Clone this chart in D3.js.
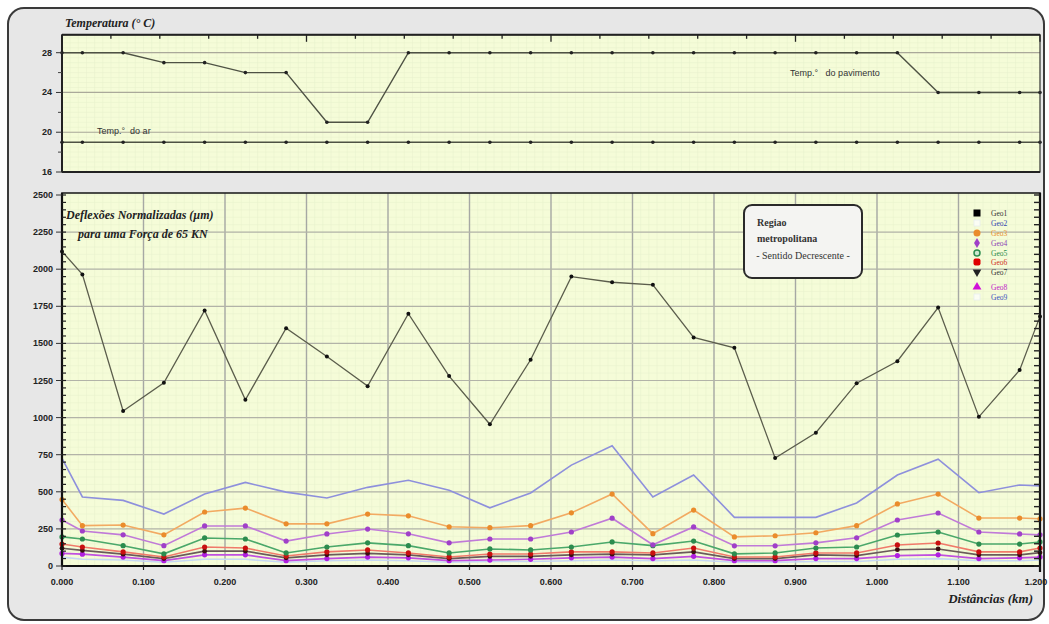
<!DOCTYPE html>
<html>
<head>
<meta charset="utf-8">
<title>Deflexões e temperatura</title>
<script src="https://cdn.jsdelivr.net/npm/d3@7"></script>
<style>
  body { margin: 0; background: #ffffff; }
  svg { display: block; }
  .lbl { font-family: "Liberation Serif", "DejaVu Serif", serif; }
  .tick-lbl { font-family: "Liberation Sans Narrow", "Liberation Sans", sans-serif; font-size: 9px; font-weight: bold; fill: #222; }
</style>
</head>
<body>
<script>
// distances (km)
var dist = [0, 0.025, 0.075, 0.125, 0.175, 0.225, 0.275, 0.325, 0.375, 0.425, 0.475, 0.525, 0.575,
            0.625, 0.675, 0.725, 0.775, 0.825, 0.875, 0.925, 0.975, 1.025, 1.075, 1.125, 1.175, 1.2];

// temperatures (°C)
var tempPav = [28, 28, 28, 27, 27, 26, 26, 21, 21, 28, 28, 28, 28, 28, 28, 28, 28, 28, 28, 28, 28, 28, 24, 24, 24, 24];
var tempAr  = [19, 19, 19, 19, 19, 19, 19, 19, 19, 19, 19, 19, 19, 19, 19, 19, 19, 19, 19, 19, 19, 19, 19, 19, 19, 19];

// normalized deflections (µm)
var geo1 = [2120, 1965, 1045, 1235, 1722, 1120, 1602, 1412, 1212, 1700, 1280, 955, 1390, 1950, 1912, 1895, 1540, 1470, 728, 898, 1232, 1380, 1742, 1005, 1320, 1682];
var geo2 = [725, 465, 442, 350, 485, 563, 498, 458, 530, 578, 510, 392, 492, 680, 810, 465, 613, 328, 328, 328, 425, 613, 720, 494, 546, 540];
var geo3 = [448, 272, 276, 210, 364, 390, 284, 284, 350, 338, 264, 258, 272, 358, 485, 218, 377, 196, 204, 224, 272, 418, 485, 323, 323, 318];
var geo4 = [310, 236, 210, 137, 270, 270, 168, 216, 249, 217, 156, 182, 182, 229, 322, 143, 263, 136, 136, 156, 190, 310, 357, 229, 216, 210];
var geo5 = [196, 182, 137, 82, 189, 182, 88, 128, 156, 137, 88, 115, 108, 128, 162, 137, 168, 82, 88, 121, 128, 209, 229, 148, 148, 162];
var geo6 = [148, 128, 95, 61, 128, 121, 67, 95, 108, 88, 61, 81, 81, 95, 95, 88, 121, 61, 61, 88, 88, 142, 155, 95, 95, 121];
var geo7 = [120, 105, 80, 50, 100, 100, 55, 75, 85, 75, 50, 65, 65, 75, 80, 75, 95, 50, 50, 75, 70, 110, 115, 75, 75, 90];
var geo8 = [85, 80, 60, 36, 75, 75, 36, 50, 60, 55, 36, 40, 45, 55, 60, 50, 65, 36, 36, 50, 50, 70, 75, 50, 55, 60];
var geo9 = [60, 45, 40, 25, 45, 45, 25, 35, 40, 35, 25, 30, 30, 35, 40, 35, 40, 25, 25, 30, 30, 45, 50, 35, 35, 40];

var seriesNames = ["Geo1", "Geo2", "Geo3", "Geo4", "Geo5", "Geo6", "Geo7", "Geo8", "Geo9"];

// tick labels
var xTicks = [0, 0.1, 0.2, 0.3, 0.4, 0.5, 0.6, 0.7, 0.8, 0.9, 1.0, 1.1, 1.2];
var tempTicks = [16, 20, 24, 28];
var deflTicks = [0, 250, 500, 750, 1000, 1250, 1500, 1750, 2000, 2250, 2500];

var W = 1049, H = 624;
var svg = d3.select("body").append("svg").attr("width", W).attr("height", H);

// outer frame
svg.append("rect").attr("x", 8).attr("y", 8).attr("width", 1036).attr("height", 612)
  .attr("rx", 16).attr("fill", "#e7e7e7").attr("stroke", "#3a3a3a").attr("stroke-width", 2);

var x = d3.scaleLinear().domain([0, 1.2]).range([62, 1040]);
var yT = d3.scaleLinear().domain([16, 28]).range([172, 52.7]);
var yB = d3.scaleLinear().domain([0, 2500]).range([566, 195]);

var topY0 = yT(29.8), botY0 = 193;

// styles for each series
var styles = [
  {data: geo1, line: "#5b5d4c", mark: "#111", r: 2, text: "#333", lm: "square"},
  {data: geo2, line: "#8e90dc", mark: null, r: 0, text: "#3245b0", lm: "empty"},
  {data: geo3, line: "#f2aa62", mark: "#ea8c2c", r: 2.6, text: "#e8902c", lm: "circle"},
  {data: geo4, line: "#c07ad8", mark: "#a040c8", r: 2.6, text: "#8a3cb4", lm: "diamond"},
  {data: geo5, line: "#4aa86a", mark: "#2c8c4e", r: 2.6, text: "#2a8a48", lm: "ocircle"},
  {data: geo6, line: "#f07a6a", mark: "#c81010", r: 2.6, text: "#d03020", lm: "rsquare"},
  {data: geo7, line: "#6a5a5a", mark: "#3a1010", r: 2.4, text: "#333", lm: "tdown"},
  {data: geo8, line: "#c050e0", mark: "#b020e0", r: 2.6, text: "#c020c8", lm: "tup"},
  {data: geo9, line: "#c6d8f4", mark: null, r: 0, text: "#3a50c0", lm: "empty"}
];

function panel(y0, y1, yScale, yStepFine) {
  var g = svg.append("g");
  g.append("rect").attr("x", 62).attr("y", y0).attr("width", 978).attr("height", y1 - y0)
    .attr("fill", "#f5fcd8");
  // fine graph paper grid
  var fx = d3.range(0, 1.2001, 0.01);
  g.selectAll(".fx").data(fx).enter().append("line")
    .attr("x1", d => x(d)).attr("x2", d => x(d)).attr("y1", y0).attr("y2", y1)
    .attr("stroke", "#e6f0cc").attr("stroke-width", 0.5);
  var dom = yScale.domain();
  var fy = d3.range(dom[0], yScale.invert(y0), yStepFine);
  g.selectAll(".fy").data(fy).enter().append("line")
    .attr("x1", 62).attr("x2", 1040).attr("y1", d => yScale(d)).attr("y2", d => yScale(d))
    .attr("stroke", "#e6f0cc").attr("stroke-width", 0.5);
  return g;
}

// ---------- top panel: temperature ----------
var gT = panel(topY0, 172, yT, 0.5);
gT.selectAll(".hg").data([20, 24, 28]).enter().append("line")
  .attr("x1", 62).attr("x2", 1040).attr("y1", d => yT(d)).attr("y2", d => yT(d))
  .attr("stroke", "#aaa99a").attr("stroke-width", 1.2);

var lineT = d3.line().x((d, i) => x(dist[i])).y(d => yT(d));
[tempPav, tempAr].forEach(function (s) {
  gT.append("path").attr("d", lineT(s)).attr("fill", "none").attr("stroke", "#4e5244").attr("stroke-width", 1.4);
  gT.selectAll(null).data(s).enter().append("circle")
    .attr("cx", (d, i) => x(dist[i])).attr("cy", d => yT(d)).attr("r", 1.8).attr("fill", "#222");
});

// top panel frame and ticks
gT.append("rect").attr("x", 62).attr("y", topY0).attr("width", 978).attr("height", 172 - topY0)
  .attr("fill", "none").attr("stroke", "#333").attr("stroke-width", 1.2);
gT.append("line").attr("x1", 62).attr("x2", 1040).attr("y1", topY0).attr("y2", topY0).attr("stroke", "#222").attr("stroke-width", 2);
gT.append("line").attr("x1", 62).attr("x2", 1040).attr("y1", 172).attr("y2", 172).attr("stroke", "#222").attr("stroke-width", 2);
gT.append("line").attr("x1", 62).attr("x2", 62).attr("y1", topY0).attr("y2", 172).attr("stroke", "#222").attr("stroke-width", 2);
var xTop = d3.scaleLinear().domain([0, 20]).range([62, 1040]);
gT.selectAll(".tt").data(d3.range(0, 21)).enter().append("line")
  .attr("x1", d => xTop(d)).attr("x2", d => xTop(d)).attr("y1", topY0).attr("y2", d => topY0 + (d % 5 == 0 ? 7 : 4))
  .attr("stroke", "#222").attr("stroke-width", 1.3);
gT.selectAll(".ty").data([18, 22, 26]).enter().append("line")
  .attr("x1", 58).attr("x2", 62).attr("y1", d => yT(d)).attr("y2", d => yT(d)).attr("stroke", "#444");
gT.selectAll(".tyM").data(tempTicks).enter().append("line")
  .attr("x1", 56).attr("x2", 62).attr("y1", d => yT(d)).attr("y2", d => yT(d)).attr("stroke", "#333");
gT.selectAll(".tl").data(tempTicks).enter().append("text").attr("class", "tick-lbl")
  .attr("x", 52).attr("y", d => yT(d) + 3).attr("text-anchor", "end").text(d => d);

svg.append("text").attr("class", "lbl").attr("x", 65).attr("y", 27)
  .attr("font-size", 12).attr("font-style", "italic").attr("font-weight", "bold").attr("fill", "#222")
  .text("Temperatura (° C)");
svg.append("text").attr("x", 97).attr("y", yT(20) + 2).attr("font-family", "Liberation Sans Narrow, Liberation Sans, sans-serif")
  .attr("font-size", 9).attr("fill", "#333").attr("xml:space", "preserve").text("Temp.°  do ar");
svg.append("text").attr("x", 790).attr("y", 76).attr("font-family", "Liberation Sans Narrow, Liberation Sans, sans-serif")
  .attr("font-size", 9).attr("fill", "#333").attr("xml:space", "preserve").text("Temp.°   do pavimento");

// ---------- bottom panel: deflections ----------
var gB = panel(botY0, 566, yB, 50);
gB.selectAll(".vg").data(xTicks.slice(1, -1)).enter().append("line")
  .attr("x1", d => x(d)).attr("x2", d => x(d)).attr("y1", botY0).attr("y2", 566)
  .attr("stroke", "#a6a8a4").attr("stroke-width", 1.4);
gB.selectAll(".hg").data(deflTicks.slice(1, -1)).enter().append("line")
  .attr("x1", 62).attr("x2", 1040).attr("y1", d => yB(d)).attr("y2", d => yB(d))
  .attr("stroke", "#b2b3a8").attr("stroke-width", 1.2);

var lineB = d3.line().x((d, i) => x(dist[i])).y(d => yB(d));
styles.slice().reverse().forEach(function (s) {
  gB.append("path").attr("d", lineB(s.data)).attr("fill", "none")
    .attr("stroke", s.line).attr("stroke-width", s.data === geo1 ? 1.3 : 1.6);
  if (s.mark) {
    gB.selectAll(null).data(s.data).enter().append("circle")
      .attr("cx", (d, i) => x(dist[i])).attr("cy", d => yB(d)).attr("r", s.r).attr("fill", s.mark);
  }
});

// frame
gB.append("rect").attr("x", 62).attr("y", botY0).attr("width", 978).attr("height", 566 - botY0)
  .attr("fill", "none").attr("stroke", "#222").attr("stroke-width", 1.6);
gB.append("line").attr("x1", 62).attr("x2", 1040).attr("y1", 566).attr("y2", 566).attr("stroke", "#111").attr("stroke-width", 2.2);
gB.append("line").attr("x1", 62).attr("x2", 62).attr("y1", botY0).attr("y2", 566).attr("stroke", "#111").attr("stroke-width", 2.2);
gB.append("line").attr("x1", 1040).attr("x2", 1040).attr("y1", botY0).attr("y2", 572).attr("stroke", "#111").attr("stroke-width", 2.2);

// y axis ticks (left + right)
var minorDefl = d3.range(0, 2501, 50);
gB.selectAll(".myl").data(minorDefl).enter().append("line")
  .attr("x1", 62).attr("x2", 66).attr("y1", d => yB(d)).attr("y2", d => yB(d)).attr("stroke", "#222").attr("stroke-width", 1.2);
gB.selectAll(".myr").data(minorDefl).enter().append("line")
  .attr("x1", 1034).attr("x2", 1040).attr("y1", d => yB(d)).attr("y2", d => yB(d)).attr("stroke", "#222").attr("stroke-width", 1.4);
gB.selectAll(".Myl").data(deflTicks).enter().append("line")
  .attr("x1", 56).attr("x2", 62).attr("y1", d => yB(d)).attr("y2", d => yB(d)).attr("stroke", "#333");
gB.selectAll(".yl").data(deflTicks).enter().append("text").attr("class", "tick-lbl")
  .attr("x", 53).attr("y", d => yB(d) + 3).attr("text-anchor", "end").text(d => d);

// x axis
gB.selectAll(".xt").data(xTicks).enter().append("line")
  .attr("x1", d => x(d)).attr("x2", d => x(d)).attr("y1", 566).attr("y2", 570).attr("stroke", "#222").attr("stroke-width", 1.2);
gB.selectAll(".xl").data(xTicks).enter().append("text").attr("class", "tick-lbl")
  .attr("x", (d, i) => i == xTicks.length - 1 ? x(d) - 4 : x(d)).attr("y", 585)
  .attr("text-anchor", "middle").text(d => d3.format(".3f")(d));

svg.append("text").attr("class", "lbl").attr("x", 1033).attr("y", 603).attr("text-anchor", "end")
  .attr("font-size", 13).attr("font-style", "italic").attr("font-weight", "bold").attr("fill", "#222")
  .text("Distâncias (km)");
svg.append("text").attr("class", "lbl").attr("x", 66).attr("y", 219)
  .attr("font-size", 12).attr("font-style", "italic").attr("font-weight", "bold").attr("fill", "#222")
  .text("Deflexões Normalizadas (µm)");
svg.append("text").attr("class", "lbl").attr("x", 78).attr("y", 238)
  .attr("font-size", 12).attr("font-style", "italic").attr("font-weight", "bold").attr("fill", "#222")
  .text("para uma Força de 65 KN");

// region box
var gR = svg.append("g");
gR.append("rect").attr("x", 744).attr("y", 205).attr("width", 118).attr("height", 73).attr("rx", 8)
  .attr("fill", "#f4f4f2").attr("stroke", "#2a2a2a").attr("stroke-width", 2);
gR.append("text").attr("class", "lbl").attr("x", 757).attr("y", 226).attr("font-size", 10).attr("font-weight", "bold").attr("fill", "#333").text("Regiao");
gR.append("text").attr("class", "lbl").attr("x", 757).attr("y", 242).attr("font-size", 10).attr("font-weight", "bold").attr("fill", "#333").text("metropolitana");
gR.append("text").attr("class", "lbl").attr("x", 803).attr("y", 259).attr("text-anchor", "middle").attr("font-size", 10).attr("fill", "#333").text("- Sentido Decrescente -");

// series legend
var legY = [213, 223, 233, 243, 253, 262, 272, 287, 297];
var gL = svg.append("g");
seriesNames.forEach(function (n, i) {
  var s = styles[i], cy = legY[i], cx = 977;
  var col = s.mark || s.line;
  if (s.lm == "square") gL.append("rect").attr("x", cx - 3.5).attr("y", cy - 3.5).attr("width", 7).attr("height", 7).attr("fill", "#000");
  else if (s.lm == "rsquare") gL.append("rect").attr("x", cx - 3.5).attr("y", cy - 3.5).attr("width", 7).attr("height", 7).attr("rx", 2).attr("fill", "#e00000");
  else if (s.lm == "empty") gL.append("rect").attr("x", cx - 3).attr("y", cy - 3).attr("width", 6).attr("height", 6).attr("fill", "#fbfdf4").attr("stroke", "#e8eef0").attr("stroke-width", 0.8);
  else if (s.lm == "circle") gL.append("circle").attr("cx", cx).attr("cy", cy).attr("r", 3.5).attr("fill", col);
  else if (s.lm == "ocircle") gL.append("circle").attr("cx", cx).attr("cy", cy).attr("r", 3).attr("fill", "#cfe8d0").attr("stroke", col).attr("stroke-width", 1.5);
  else if (s.lm == "diamond") gL.append("path").attr("d", d3.symbol(d3.symbolDiamond, 30)()).attr("transform", "translate(" + cx + "," + cy + ")").attr("fill", col);
  else if (s.lm == "tdown") gL.append("path").attr("d", d3.symbol(d3.symbolTriangle, 32)()).attr("transform", "translate(" + cx + "," + cy + ") rotate(180)").attr("fill", "#222");
  else if (s.lm == "tup") gL.append("path").attr("d", d3.symbol(d3.symbolTriangle, 34)()).attr("transform", "translate(" + cx + "," + cy + ")").attr("fill", "#d010d8");
  gL.append("text").attr("class", "lbl").attr("x", 991).attr("y", cy + 2.5).attr("font-size", 7.5).attr("fill", s.text).text(n);
});
</script>
</body>
</html>
